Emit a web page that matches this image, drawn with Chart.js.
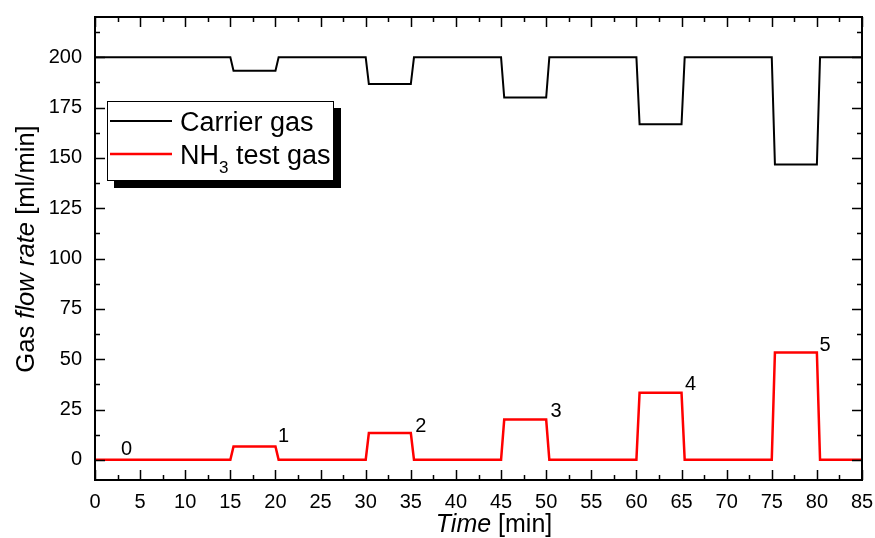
<!DOCTYPE html>
<html>
<head>
<meta charset="utf-8">
<script src="https://cdn.jsdelivr.net/npm/chart.js@4.4.0/dist/chart.umd.min.js"></script>
<style>
html,body{margin:0;padding:0;background:#fff;}
#wrap{position:relative;width:875px;height:538px;}
</style>
</head>
<body>
<div id="wrap"><canvas id="c" width="875" height="538"></canvas></div>
<script>
// ---- data ----
const timeMin = [0, 15, 15.35, 20, 20.35, 30, 30.35, 35, 35.35, 45, 45.35, 50, 50.35, 60, 60.35, 65, 65.35, 75, 75.35, 80, 80.35, 85];
const carrierFlow = [200, 200, 193.3, 193.3, 200, 200, 186.7, 186.7, 200, 200, 180, 180, 200, 200, 166.7, 166.7, 200, 200, 146.7, 146.7, 200, 200];
const nh3Flow = [0, 0, 6.7, 6.7, 0, 0, 13.3, 13.3, 0, 0, 20, 20, 0, 0, 33.3, 33.3, 0, 0, 53.3, 53.3, 0, 0];
const stepLabels = ['0', '1', '2', '3', '4', '5'];
const stepLabelX = [3.5, 20.9, 36.1, 51.1, 66.0, 80.9];
const stepLabelY = [5.2, 11.7, 16.7, 24.1, 37.6, 57.0];
const xTickValues = [0, 5, 10, 15, 20, 25, 30, 35, 40, 45, 50, 55, 60, 65, 70, 75, 80, 85];
const yTickValues = [0, 25, 50, 75, 100, 125, 150, 175, 200];
const seriesNames = ['Carrier gas', 'NH', '3', ' test gas'];

const FONT = '"Liberation Sans", Arial, sans-serif';

const decoPlugin = {
  id: 'deco',
  afterDatasetsDraw(chart) {
    const ctx = chart.ctx;
    const a = chart.chartArea;
    const xs = chart.scales.x, ys = chart.scales.y;
    ctx.save();
    // frame
    ctx.strokeStyle = '#000';
    ctx.lineWidth = 2;
    ctx.strokeRect(a.left, a.top, a.right - a.left, a.bottom - a.top);
    // inward ticks on all four sides
    ctx.lineWidth = 1.5;
    ctx.beginPath();
    for (let v = 0; v <= 85 + 1e-9; v += 2.5) {
      const major = Math.abs(v / 5 - Math.round(v / 5)) < 1e-6;
      const L = major ? 10 : 5;
      const px = Math.round(xs.getPixelForValue(v)) + 0.5;
      ctx.moveTo(px, a.bottom); ctx.lineTo(px, a.bottom - L);
      ctx.moveTo(px, a.top); ctx.lineTo(px, a.top + L);
    }
    for (let v = 0; v <= 220 + 1e-9; v += 12.5) {
      const major = Math.abs(v / 25 - Math.round(v / 25)) < 1e-6;
      const L = major ? 10 : 5;
      const py = Math.round(ys.getPixelForValue(v)) + 0.5;
      ctx.moveTo(a.left, py); ctx.lineTo(a.left + L, py);
      ctx.moveTo(a.right, py); ctx.lineTo(a.right - L, py);
    }
    ctx.stroke();

    // step labels
    ctx.fillStyle = '#000';
    ctx.font = '20px ' + FONT;
    ctx.textAlign = 'center';
    ctx.textBaseline = 'middle';
    for (let i = 0; i < stepLabels.length; i++) {
      ctx.fillText(stepLabels[i], xs.getPixelForValue(stepLabelX[i]), ys.getPixelForValue(stepLabelY[i]));
    }

    // x axis title: "Time [min]"
    ctx.textAlign = 'left';
    ctx.textBaseline = 'alphabetic';
    ctx.font = 'italic 25px ' + FONT;
    const t1 = 'Time';
    const t2 = ' [min]';
    const w1 = ctx.measureText(t1).width;
    ctx.font = '25px ' + FONT;
    const w2 = ctx.measureText(t2).width;
    let x0 = 494 - (w1 + w2) / 2;
    ctx.font = 'italic 25px ' + FONT;
    ctx.fillText(t1, x0, 532);
    ctx.font = '25px ' + FONT;
    ctx.fillText(t2, x0 + w1, 532);

    // y axis title: "Gas flow rate [ml/min]"
    const parts = [['Gas ', ''], ['flow rate', 'italic '], [' [ml/min]', '']];
    let tot = 0;
    parts.forEach(p => { ctx.font = p[1] + '25.6px ' + FONT; tot += ctx.measureText(p[0]).width; });
    ctx.save();
    ctx.translate(34, 249);
    ctx.rotate(-Math.PI / 2);
    let cx = -tot / 2;
    parts.forEach(p => { ctx.font = p[1] + '25.6px ' + FONT; ctx.fillText(p[0], cx, 0); cx += ctx.measureText(p[0]).width; });
    ctx.restore();

    // legend with shadow
    ctx.fillStyle = '#000';
    ctx.fillRect(114, 108, 227, 80);
    ctx.fillStyle = '#fff';
    ctx.fillRect(107, 101, 226, 79);
    ctx.strokeStyle = '#000';
    ctx.lineWidth = 1;
    ctx.strokeRect(107.5, 101.5, 226, 79);
    ctx.lineWidth = 2;
    ctx.strokeStyle = '#000';
    ctx.beginPath(); ctx.moveTo(110, 121); ctx.lineTo(172, 121); ctx.stroke();
    ctx.strokeStyle = '#ff0000';
    ctx.lineWidth = 2.5;
    ctx.beginPath(); ctx.moveTo(110, 154); ctx.lineTo(172, 154); ctx.stroke();
    ctx.fillStyle = '#000';
    ctx.font = '27px ' + FONT;
    ctx.textBaseline = 'alphabetic';
    ctx.fillText(seriesNames[0], 180, 131);
    ctx.fillText(seriesNames[1], 180, 164);
    const wNH = ctx.measureText(seriesNames[1]).width;
    ctx.font = '17px ' + FONT;
    ctx.fillText(seriesNames[2], 180 + wNH, 173);
    const w3 = ctx.measureText(seriesNames[2]).width;
    ctx.font = '27px ' + FONT;
    ctx.fillText(seriesNames[3], 180 + wNH + w3, 164);
    ctx.restore();
  }
};

function zeroPad(s) { s.paddingTop = 0; s.paddingBottom = 0; s.paddingLeft = 0; s.paddingRight = 0; }

new Chart(document.getElementById('c'), {
  type: 'line',
  data: {
    labels: timeMin,
    datasets: [
      { label: 'Carrier gas', data: timeMin.map((t, i) => ({ x: t, y: carrierFlow[i] })), borderColor: '#000', borderWidth: 2, pointRadius: 0, tension: 0, fill: false },
      { label: 'NH3 test gas', data: timeMin.map((t, i) => ({ x: t, y: nh3Flow[i] })), borderColor: '#ff0000', borderWidth: 2.5, pointRadius: 0, tension: 0, fill: false }
    ]
  },
  options: {
    responsive: false,
    animation: false,
    devicePixelRatio: 1,
    layout: { padding: { left: 0, top: 17, right: 13, bottom: 0 } },
    plugins: { legend: { display: false }, tooltip: { enabled: false } },
    scales: {
      x: {
        type: 'linear', min: 0, max: 85,
        grid: { display: false, drawTicks: false },
        border: { display: false },
        afterBuildTicks: s => { s.ticks = xTickValues.map(v => ({ value: v })); },
        afterFit: s => { s.height = 58; zeroPad(s); },
        ticks: { color: '#000', font: { family: FONT, size: 20 }, padding: 10, maxRotation: 0, autoSkip: false }
      },
      y: {
        type: 'linear', min: -10, max: 220,
        grid: { display: false, drawTicks: false },
        border: { display: false },
        afterBuildTicks: s => { s.ticks = yTickValues.map(v => ({ value: v })); },
        afterFit: s => { s.width = 95; zeroPad(s); },
        ticks: { color: '#000', font: { family: FONT, size: 20 }, padding: 13, autoSkip: false }
      }
    }
  },
  plugins: [decoPlugin]
});
</script>
</body>
</html>
